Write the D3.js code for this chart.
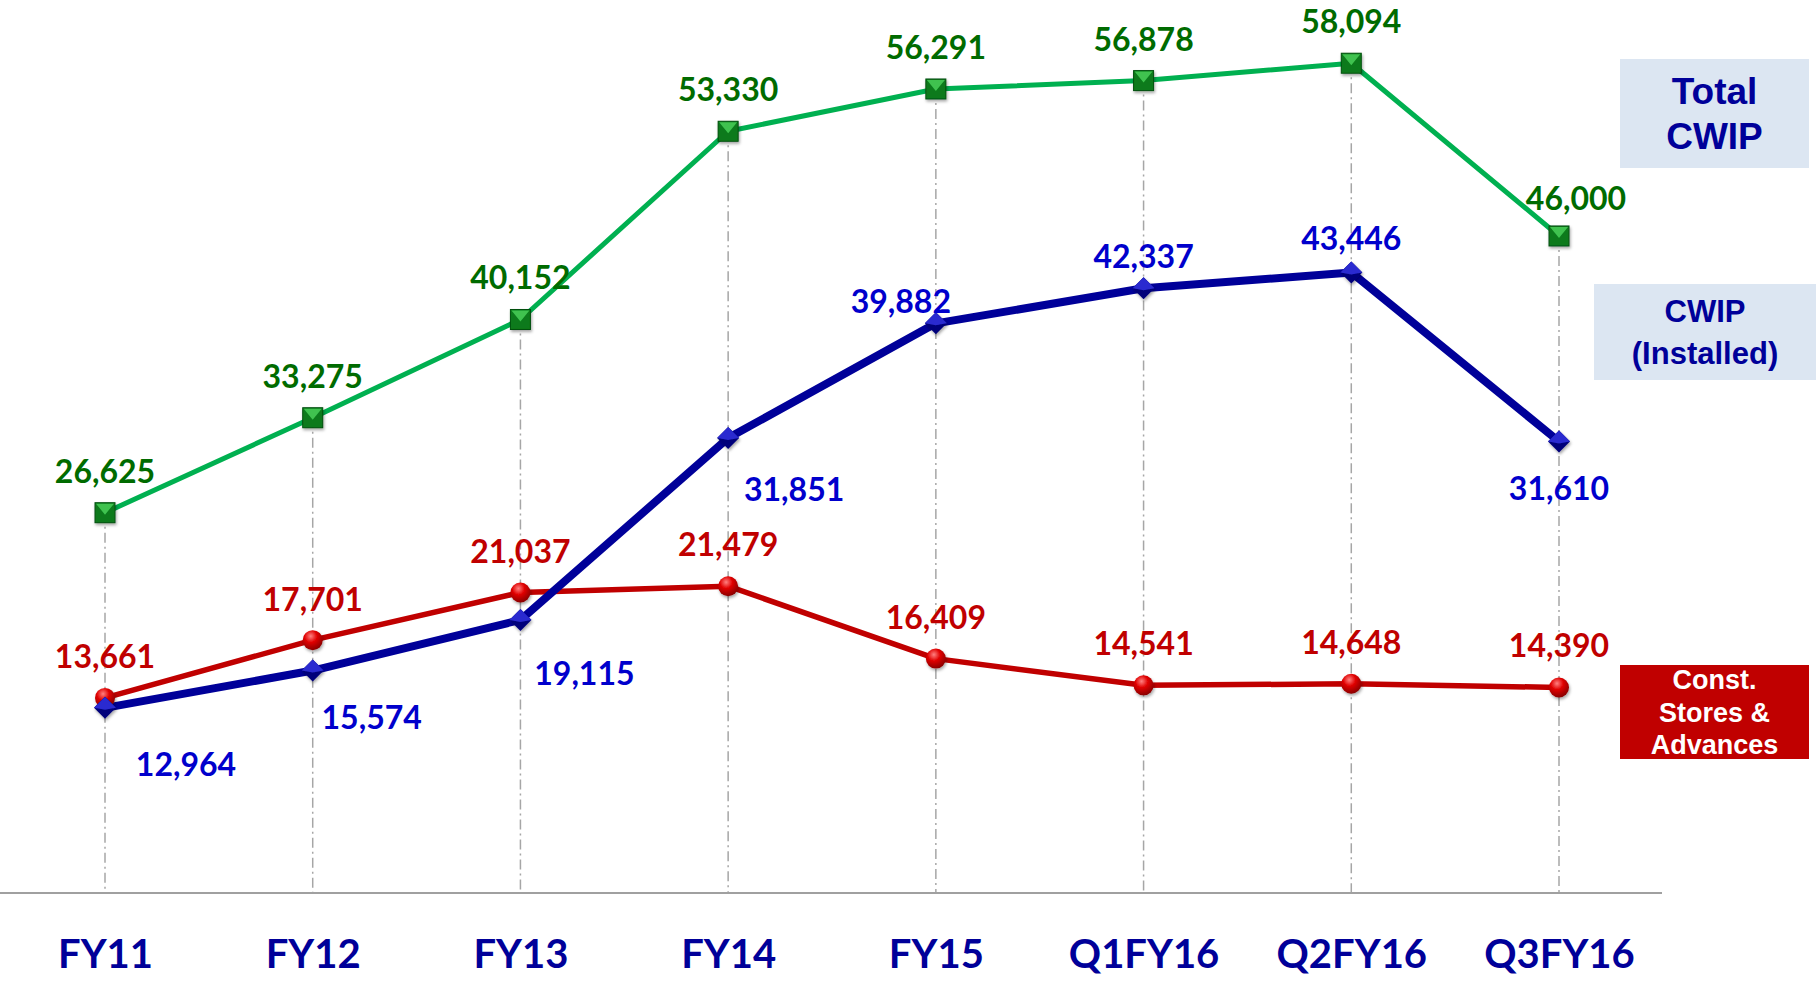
<!DOCTYPE html>
<html>
<head>
<meta charset="utf-8">
<script src="https://cdn.jsdelivr.net/npm/d3@7"></script>
<style>
  body { margin: 0; background: #fff; }
  svg { display: block; }
</style>
</head>
<body>
<div id="chart"></div>
<script>
// data
const periods = ['FY11', 'FY12', 'FY13', 'FY14', 'FY15', 'Q1FY16', 'Q2FY16', 'Q3FY16']
const totalCwip = [26625, 33275, 40152, 53330, 56291, 56878, 58094, 46000]
const cwipInstalled = [12964, 15574, 19115, 31851, 39882, 42337, 43446, 31610]
const constStores = [13661, 17701, 21037, 21479, 16409, 14541, 14648, 14390]

const W = 1816, H = 981

let svg = d3.select('#chart').append('svg')
    .attr('width', W)
    .attr('height', H)

let x = d3.scalePoint()
    .domain(periods)
    .range([105, 1559])

let y = d3.scaleLinear()
    .domain([0, 60000])
    .range([893, 36])

const defs = svg.append('defs')

// petits effets 3D des marqueurs
let rg = defs.append('radialGradient').attr('id', 'redBall').attr('cx', '40%').attr('cy', '30%').attr('r', '70%')
rg.append('stop').attr('offset', '0%').attr('stop-color', '#ff8080')
rg.append('stop').attr('offset', '45%').attr('stop-color', '#e00000')
rg.append('stop').attr('offset', '100%').attr('stop-color', '#8a0000')

let sh = defs.append('filter').attr('id', 'shadow').attr('x', '-50%').attr('y', '-50%').attr('width', '200%').attr('height', '200%')
sh.append('feDropShadow').attr('dx', 1).attr('dy', 2).attr('stdDeviation', 1.5).attr('flood-color', '#000').attr('flood-opacity', 0.35)

// drop lines (dash-dot) from the top series down to the axis
svg.append('g')
    .selectAll('line')
    .data(periods)
    .join('line')
    .attr('x1', d => x(d))
    .attr('x2', d => x(d))
    .attr('y1', (d, i) => y(totalCwip[i]))
    .attr('y2', y(0))
    .attr('stroke', '#a6a6a6')
    .attr('stroke-width', 1.5)
    .attr('stroke-dasharray', '10,4,2,4')

// axis line
svg.append('line')
    .attr('x1', 0).attr('x2', 1662)
    .attr('y1', y(0)).attr('y2', y(0))
    .attr('stroke', '#a0a0a0')
    .attr('stroke-width', 2)

// x axis labels
let xAxis = d3.axisBottom(x).tickSize(0).tickPadding(0)
let gx = svg.append('g')
    .attr('transform', 'translate(0,' + 940 + ')')
    .call(xAxis)
gx.select('.domain').remove()
gx.selectAll('text')
    .attr('font-family', 'Lato, sans-serif')
    .attr('font-weight', 'bold')
    .attr('font-size', 40)
    .attr('fill', '#000099')

function drawLine(values, color, width) {
    let line = d3.line()
        .x((d, i) => x(periods[i]))
        .y(d => y(d))
    svg.append('path')
        .datum(values)
        .attr('d', line)
        .attr('fill', 'none')
        .attr('stroke', color)
        .attr('stroke-width', width)
        .attr('stroke-linejoin', 'round')
}

drawLine(totalCwip, '#00b050', 5)
drawLine(constStores, '#c00000', 5.5)
drawLine(cwipInstalled, '#000099', 8)

// markers: green squares
let sq = svg.append('g').selectAll('g')
    .data(totalCwip)
    .join('g')
    .attr('transform', (d, i) => 'translate(' + x(periods[i]) + ',' + y(d) + ')')
    .attr('filter', 'url(#shadow)')
sq.append('rect')
    .attr('x', -10).attr('y', -10).attr('width', 20).attr('height', 20)
    .attr('fill', '#0a7a1a').attr('stroke', '#05500f').attr('stroke-width', 1)
sq.append('path')
    .attr('d', 'M-9,-9 L9,-9 L0,2 Z')
    .attr('fill', '#3fc24f')

// red balls
svg.append('g').selectAll('circle')
    .data(constStores)
    .join('circle')
    .attr('cx', (d, i) => x(periods[i]))
    .attr('cy', d => y(d))
    .attr('r', 10)
    .attr('fill', 'url(#redBall)')
    .attr('filter', 'url(#shadow)')

// blue diamonds
let dm = svg.append('g').selectAll('g')
    .data(cwipInstalled)
    .join('g')
    .attr('transform', (d, i) => 'translate(' + x(periods[i]) + ',' + y(d) + ')')
    .attr('filter', 'url(#shadow)')
dm.append('path')
    .attr('d', 'M0,-11 L11,0 L0,11 L-11,0 Z')
    .attr('fill', '#00007a')
dm.append('path')
    .attr('d', 'M0,-11 L11,0 L0,2 L-11,0 Z')
    .attr('fill', '#2a2ad0')

// data labels (offsets relative to the point)
const fmt = d3.format(',')
const greenDx = [0, 0, 0, 0, 0, 0, 0, 17]
const greenDy = [-30, -30, -30, -30, -30, -30, -30, -26]
const blueDx = [81, 59, 64, 66, -35, 0, 0, 0]
const blueDy = [68, 58, 65, 63, -10, -20, -22, 58]
const redDx = [0, 0, 0, 0, 0, 0, 0, 0]
const redDy = [-30, -29, -30, -30, -30, -30, -30, -30]

function drawLabels(values, dx, dy, color) {
    svg.append('g').selectAll('text')
        .data(values)
        .join('text')
        .attr('x', (d, i) => x(periods[i]) + dx[i])
        .attr('y', (d, i) => y(d) + dy[i])
        .attr('text-anchor', 'middle')
        .attr('font-family', 'Lato, sans-serif')
        .attr('font-weight', 'bold')
        .attr('font-size', 32)
        .attr('fill', color)
        .text(d => fmt(d))
}

drawLabels(totalCwip, greenDx, greenDy, '#006b00')
drawLabels(cwipInstalled, blueDx, blueDy, '#0000cc')
drawLabels(constStores, redDx, redDy, '#c00000')

// legend boxes
const legend = [
    { lines: ['Total', 'CWIP'], x: 1620, y: 59, w: 189, h: 109, fill: '#dce6f2', color: '#000099', size: 37, lh: 45 },
    { lines: ['CWIP', '(Installed)'], x: 1594, y: 284, w: 222, h: 96, fill: '#dce6f2', color: '#000099', size: 31, lh: 42 },
    { lines: ['Const.', 'Stores &', 'Advances'], x: 1620, y: 665, w: 189, h: 94, fill: '#c00000', color: '#ffffff', size: 27, lh: 32.5 }
]
let lg = svg.append('g').selectAll('g')
    .data(legend)
    .join('g')
lg.append('rect')
    .attr('x', d => d.x).attr('y', d => d.y)
    .attr('width', d => d.w).attr('height', d => d.h)
    .attr('fill', d => d.fill)
lg.each(function (d) {
    let g = d3.select(this)
    let n = d.lines.length
    d.lines.forEach((t, i) => {
        g.append('text')
            .attr('x', d.x + d.w / 2)
            .attr('y', d.y + d.h / 2 + (i - (n - 1) / 2) * d.lh)
            .attr('dy', '0.36em')
            .attr('text-anchor', 'middle')
            .attr('font-family', 'Liberation Sans, Arial, sans-serif')
            .attr('font-weight', 'bold')
            .attr('font-size', d.size)
            .attr('fill', d.color)
            .text(t)
    })
})
</script>
</body>
</html>
